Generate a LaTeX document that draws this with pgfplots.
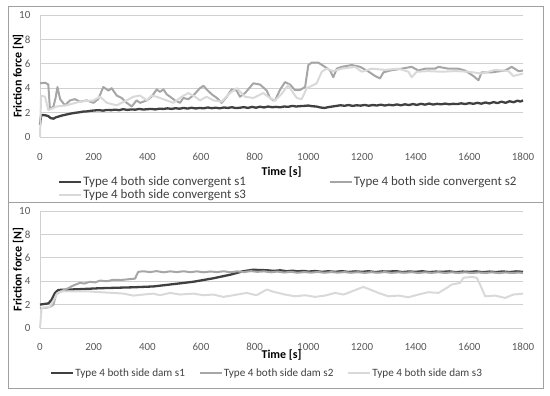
\documentclass[border=0pt]{standalone}
\usepackage{fontspec}
\setmainfont{Carlito}
\usepackage{pgfplots}
\pgfplotsset{compat=1.18}
\definecolor{cS1}{HTML}{404040}
\definecolor{cS2}{HTML}{A6A6A6}
\definecolor{cS3}{HTML}{D9D9D9}
\definecolor{cGrid}{HTML}{D0D0D0}
\definecolor{cTxt}{HTML}{595959}
\definecolor{cFrame}{HTML}{A0A0A0}
\pgfplotsset{
  panel/.style={
    scale only axis, width=483bp,
    xmin=0, xmax=1800, ymin=0, ymax=10,
    xtick={0,200,...,1800}, ytick={0,2,...,10},
    ymajorgrids, major grid style={cGrid, line width=0.8bp},
    axis x line=bottom, axis y line=left,
    axis line style={-, draw=cGrid, line width=0.8bp},
    tick style={draw=none},
    /pgf/number format/assume math mode=true,
    /pgf/number format/set thousands separator={},
    tick label style={font=\fontsize{11}{13}\selectfont, text=cTxt},
    yticklabel style={xshift=-4bp},
    ylabel={Friction force [N]},
    xlabel={Time [s]},
    every axis y label/.style={at={(axis description cs:-0.0455,0.5)}, anchor=center, rotate=90, font=\fontsize{12}{14}\selectfont\bfseries},
    legend cell align=left,
    legend image code/.code={\draw[##1] (0bp,0bp) -- (22bp,0bp);},
    clip=false,
  },
  s1/.style={cS1, line width=2.3bp, line join=round},
  s2/.style={cS2, line width=2bp, line join=round},
  s3/.style={cS3, line width=2bp, line join=round},
}
\begin{document}
\begin{tikzpicture}
\path[use as bounding box] (0bp,0bp) rectangle (550bp,396bp);
\draw[cFrame, line width=1bp] (8bp,389bp) rectangle (543bp,193bp);
\draw[cFrame, line width=1bp] (8bp,193bp) rectangle (543bp,7bp);
% ---------------- top panel ----------------
\begin{axis}[panel, at={(40bp,259bp)}, anchor=south west, height=122bp,
  xticklabel style={anchor=center, yshift=-18bp},
  every axis x label/.style={at={(axis description cs:0.5,-0.287)}, anchor=center, font=\fontsize{12}{14}\selectfont\bfseries},
  legend columns=2,
  legend style={at={(axis description cs:0.031,-0.30)}, anchor=north west, draw=none, fill=none,
    font=\fontsize{13}{15}\selectfont, text=cS1, row sep=0bp,
    nodes={inner sep=1bp},
    /tikz/every even column/.append style={column sep=82bp}},
]
\addplot[s1] coordinates {
(0,1.0)(4,1.75)(10,1.8)(20,1.78)(30,1.72)(40,1.55)(50,1.5)(60,1.62)(70,1.68)(80,1.75)
(90,1.8)(100,1.85)(115,1.92)(130,1.98)(145,2.02)(160,2.08)(175,2.1)(190,2.15)(205,2.18)
(220,2.2)(235,2.16)(250,2.22)(265,2.2)(280,2.24)(295,2.2)(310,2.28)(325,2.22)(340,2.26)
(355,2.24)(370,2.3)(385,2.25)(400,2.28)(415,2.3)(430,2.26)(445,2.32)(460,2.3)(475,2.35)
(490,2.3)(505,2.36)(520,2.32)(535,2.38)(550,2.33)(565,2.4)(580,2.34)(595,2.38)(610,2.35)
(625,2.42)(640,2.36)(655,2.4)(670,2.35)(685,2.42)(700,2.38)(715,2.44)(730,2.37)(745,2.4)
(760,2.45)(775,2.38)(790,2.47)(805,2.4)(820,2.48)(835,2.42)(850,2.5)(865,2.44)(880,2.47)
(895,2.43)(910,2.5)(925,2.47)(940,2.55)(955,2.5)(970,2.53)(985,2.55)(1000,2.58)(1015,2.52)
(1030,2.5)(1045,2.42)(1060,2.38)(1075,2.45)(1090,2.5)(1105,2.55)(1120,2.6)(1135,2.56)
(1150,2.62)(1165,2.55)(1180,2.6)(1195,2.57)(1210,2.63)(1225,2.56)(1240,2.62)(1255,2.58)
(1270,2.65)(1285,2.58)(1300,2.64)(1315,2.6)(1330,2.67)(1345,2.6)(1360,2.68)(1375,2.62)
(1390,2.7)(1405,2.63)(1420,2.72)(1435,2.65)(1450,2.74)(1465,2.66)(1480,2.72)(1495,2.68)
(1510,2.74)(1525,2.68)(1540,2.72)(1555,2.7)(1570,2.76)(1585,2.7)(1600,2.78)(1615,2.72)
(1630,2.8)(1645,2.73)(1660,2.83)(1675,2.75)(1690,2.86)(1705,2.78)(1720,2.9)(1735,2.8)
(1750,2.93)(1765,2.85)(1780,2.98)(1790,2.9)(1800,3.0)};
\addlegendentry{Type 4 both side convergent s1}
\addplot[s2] coordinates {
(0,4.4)(19,4.45)(31,4.3)(37,2.3)(50,2.5)(58,3.2)(65,4.1)(75,3.1)(93,2.6)(112,3.0)(130,3.1)
(149,2.9)(174,3.0)(199,2.8)(217,3.1)(236,4.1)(255,3.8)(267,4.0)(286,3.4)(304,3.2)(323,2.8)
(342,2.5)(360,3.0)(373,2.8)(398,3.0)(416,3.3)(435,3.9)(447,3.7)(460,3.9)(472,3.5)(485,3.3)
(503,3.0)(522,2.8)(534,3.2)(553,3.1)(571,3.4)(596,4.0)(609,4.2)(621,3.9)(640,3.5)(659,3.2)
(677,2.8)(696,3.3)(714,3.9)(733,3.8)(745,3.3)(764,3.6)(795,4.4)(820,4.3)(845,3.8)(857,3.2)
(870,3.0)(876,3.0)(894,3.85)(913,4.5)(932,4.3)(950,3.85)(969,3.85)(988,4.1)(1000,5.9)
(1013,6.1)(1037,6.1)(1062,5.75)(1081,5.45)(1093,4.9)(1106,5.6)(1124,5.75)(1162,5.9)
(1193,5.75)(1218,5.45)(1249,5.0)(1267,4.8)(1280,5.3)(1305,5.45)(1348,5.6)(1385,5.75)
(1410,5.45)(1435,5.6)(1472,5.6)(1485,5.75)(1522,5.6)(1559,5.6)(1584,5.45)(1615,5.0)
(1634,4.65)(1646,5.3)(1683,5.3)(1733,5.45)(1758,5.75)(1783,5.4)(1800,5.45)};
\addlegendentry{Type 4 both side convergent s2}
\addplot[s3] coordinates {
(0,0)(4,3.4)(19,3.3)(31,2.2)(62,2.5)(100,2.6)(149,2.9)(199,3.0)(224,3.3)(249,2.8)(286,2.6)
(323,3.0)(348,3.3)(373,3.4)(398,3.0)(416,3.4)(435,3.3)(472,3.0)(497,2.8)(528,3.3)(553,3.6)
(578,3.3)(596,3.0)(621,3.3)(646,3.0)(677,2.9)(708,3.6)(733,4.0)(764,3.3)(795,3.2)(832,3.6)
(857,3.2)(876,3.0)(901,3.55)(925,4.25)(944,3.6)(957,3.2)(975,3.1)(994,4.0)(1013,4.2)
(1031,4.4)(1050,5.35)(1068,5.6)(1093,5.4)(1124,5.6)(1174,5.75)(1199,5.35)(1236,5.6)
(1286,5.5)(1336,5.6)(1373,5.35)(1385,4.9)(1404,5.35)(1447,5.4)(1497,5.35)(1547,5.4)
(1597,5.35)(1646,5.2)(1696,5.5)(1746,5.4)(1764,5.0)(1800,5.2)};
\addlegendentry{Type 4 both side convergent s3}
\end{axis}
% ---------------- bottom panel ----------------
\begin{axis}[panel, at={(40bp,68bp)}, anchor=south west, height=117bp,
  xticklabel style={anchor=center, yshift=-17bp},
  every axis x label/.style={at={(axis description cs:0.5,-0.231)}, anchor=center, font=\fontsize{12}{14}\selectfont\bfseries},
  legend columns=3,
  legend style={at={(axis description cs:0.0145,-0.318)}, anchor=north west, draw=none, fill=none,
    font=\fontsize{11.2}{13.5}\selectfont, text=cS1,
    nodes={inner sep=1bp},
    /tikz/every even column/.append style={column sep=13bp}},
]
\addplot[s1] coordinates {
(0,2.0)(15,2.05)(31,2.1)(43,2.4)(56,3.0)(68,3.25)(100,3.28)(149,3.32)(224,3.4)(348,3.48)
(422,3.55)(497,3.75)(571,3.95)(646,4.25)(708,4.55)(757,4.85)(795,4.98)(820,4.95)(845,4.94)
(870,4.88)(895,4.93)(920,4.85)(940,4.9)(960,4.84)(980,4.88)(1000,4.82)(1025,4.87)(1050,4.8)
(1075,4.85)(1100,4.8)(1125,4.86)(1150,4.79)(1175,4.84)(1200,4.8)(1225,4.85)(1250,4.78)
(1275,4.84)(1300,4.82)(1325,4.86)(1350,4.78)(1375,4.83)(1400,4.8)(1425,4.85)(1450,4.78)
(1475,4.82)(1500,4.8)(1525,4.84)(1550,4.77)(1575,4.82)(1600,4.79)(1625,4.84)(1650,4.77)
(1675,4.82)(1700,4.78)(1725,4.83)(1750,4.78)(1775,4.84)(1800,4.8)};
\addlegendentry{Type 4 both side dam s1}
\addplot[s2] coordinates {
(0,1.7)(20,1.72)(37,1.8)(50,2.0)(60,2.86)(77,3.14)(100,3.34)(124,3.63)(149,3.86)(165,3.8)
(186,3.95)(205,3.9)(224,4.05)(250,4.0)(273,4.12)(300,4.1)(323,4.15)(354,4.22)(366,4.8)
(385,4.85)(410,4.78)(435,4.86)(460,4.76)(485,4.84)(510,4.78)(535,4.85)(560,4.77)(585,4.84)
(610,4.76)(635,4.83)(660,4.78)(685,4.85)(710,4.76)(735,4.84)(760,4.78)(785,4.86)(810,4.8)
(835,4.84)(860,4.76)(885,4.82)(910,4.74)(935,4.8)(960,4.72)(985,4.78)(1010,4.73)(1035,4.79)
(1060,4.72)(1085,4.78)(1110,4.73)(1135,4.78)(1160,4.72)(1185,4.77)(1210,4.71)(1235,4.77)
(1260,4.72)(1285,4.78)(1310,4.71)(1335,4.76)(1360,4.72)(1385,4.77)(1410,4.7)(1435,4.76)
(1460,4.71)(1485,4.77)(1510,4.7)(1535,4.76)(1560,4.71)(1585,4.76)(1610,4.7)(1635,4.75)
(1660,4.7)(1685,4.76)(1710,4.69)(1735,4.75)(1760,4.7)(1785,4.74)(1800,4.7)};
\addlegendentry{Type 4 both side dam s2}
\addplot[s3] coordinates {
(0,0)(6,1.71)(37,1.8)(52,2.43)(65,3.0)(87,3.14)(137,3.14)(174,3.14)(224,3.06)(273,3.0)
(311,2.94)(348,2.77)(385,2.86)(422,2.94)(447,2.8)(485,3.0)(522,2.86)(571,2.94)(609,2.8)
(646,2.86)(683,2.66)(720,2.8)(770,3.0)(807,2.8)(845,3.29)(870,3.1)(913,2.86)(950,2.71)
(988,2.8)(1025,2.66)(1062,2.77)(1100,3.0)(1131,2.86)(1155,3.06)(1180,3.29)(1205,3.51)
(1230,3.29)(1261,3.0)(1298,2.71)(1336,2.77)(1373,2.63)(1410,2.86)(1447,3.06)(1485,3.0)
(1516,3.43)(1534,3.71)(1566,3.86)(1578,4.29)(1609,4.37)(1628,4.29)(1640,3.71)(1659,2.71)
(1696,2.77)(1733,2.57)(1764,2.86)(1800,2.94)};
\addlegendentry{Type 4 both side dam s3}
\end{axis}
\end{tikzpicture}
\end{document}
